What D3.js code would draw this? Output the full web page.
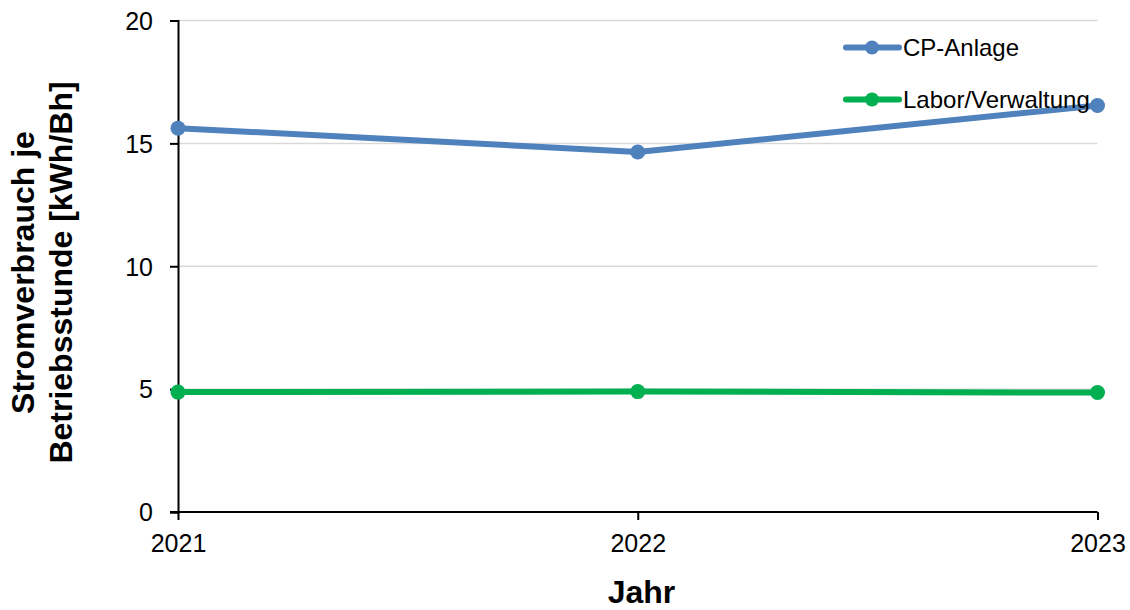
<!DOCTYPE html>
<html><head><meta charset="utf-8">
<script src="https://cdn.jsdelivr.net/npm/d3@7"></script>
<style>body{margin:0;background:#fff}svg{display:block;font-family:"Liberation Sans",Arial,sans-serif}</style>
</head><body><svg id="c" width="1130" height="610"></svg>
<script>
const years = ["2021","2022","2023"];
const cpAnlage = [15.62, 14.65, 16.54];
const laborVerwaltung = [4.88, 4.90, 4.86];
const seriesNames = ["CP-Anlage","Labor/Verwaltung"];
const seriesColors = ["#4F81BD","#00B050"];
const yTicks = [0,5,10,15,20];

const svg = d3.select("#c");
const x = d3.scalePoint().domain(years).range([178, 1097.5]);
const y = d3.scaleLinear().domain([0,20]).range([512, 20.5]);
const FF = "Liberation Sans, Arial, sans-serif";

// gridlines
svg.append("g").selectAll("line").data(yTicks.filter(d=>d>0)).join("line")
  .attr("x1",178).attr("x2",1097.5).attr("y1",d=>y(d)).attr("y2",d=>y(d))
  .attr("stroke","#d9d9d9").attr("stroke-width",1.5);

// y axis
const ya = svg.append("g").attr("transform","translate(178,0)")
  .call(d3.axisLeft(y).tickValues(yTicks).tickSize(8).tickPadding(17).tickFormat(d3.format("d")));
ya.select(".domain").attr("stroke","#000").attr("stroke-width",2);
ya.selectAll(".tick line").attr("stroke","#000").attr("stroke-width",2);
ya.selectAll("text").attr("font-size",25).attr("fill","#000").attr("font-family",FF).attr("dy","0.35em");

// x axis
const xa = svg.append("g").attr("transform","translate(0,"+y(0)+")")
  .call(d3.axisBottom(x).tickSize(8).tickSizeOuter(0).tickPadding(0));
xa.select(".domain").attr("stroke","#000").attr("stroke-width",2).attr("d","M170,0H1097.5");
xa.selectAll(".tick line").attr("stroke","#000").attr("stroke-width",2);
xa.selectAll("text").attr("font-size",25).attr("fill","#000").attr("font-family",FF)
  .attr("y",40).attr("dy",0);

// series
const data = [cpAnlage, laborVerwaltung];
const line = d3.line().x((d,i)=>x(years[i])).y(d=>y(d));
data.forEach((vals,k)=>{
  svg.append("path").datum(vals).attr("d",line).attr("fill","none")
    .attr("stroke",seriesColors[k]).attr("stroke-width",6).attr("stroke-linejoin","round");
  svg.append("g").selectAll("circle").data(vals).join("circle")
    .attr("cx",(d,i)=>x(years[i])).attr("cy",d=>y(d)).attr("r",7.5).attr("fill",seriesColors[k]);
});

// legend
const lg = svg.append("g");
seriesNames.forEach((n,k)=>{
  const ly = 47.5 + k*52;
  lg.append("line").attr("x1",846).attr("x2",899).attr("y1",ly).attr("y2",ly)
    .attr("stroke",seriesColors[k]).attr("stroke-width",6).attr("stroke-linecap","round");
  lg.append("circle").attr("cx",872).attr("cy",ly).attr("r",7).attr("fill",seriesColors[k]);
  lg.append("text").attr("x",903).attr("y",ly+8.5).attr("font-size",24).attr("fill","#000")
    .attr("font-family",FF).text(n);
});

// axis titles
svg.append("text").attr("x",641.5).attr("y",603).attr("text-anchor","middle")
  .attr("font-size",32).attr("font-weight","bold").attr("font-family",FF).text("Jahr");
const yt = svg.append("text").attr("transform","translate(0,272.5) rotate(-90)")
  .attr("text-anchor","middle").attr("font-size",32).attr("font-weight","bold").attr("font-family",FF);
yt.append("tspan").attr("x",0).attr("y",34).text("Stromverbrauch je");
yt.append("tspan").attr("x",0).attr("y",72).text("Betriebsstunde [kWh/Bh]");
</script></body></html>
